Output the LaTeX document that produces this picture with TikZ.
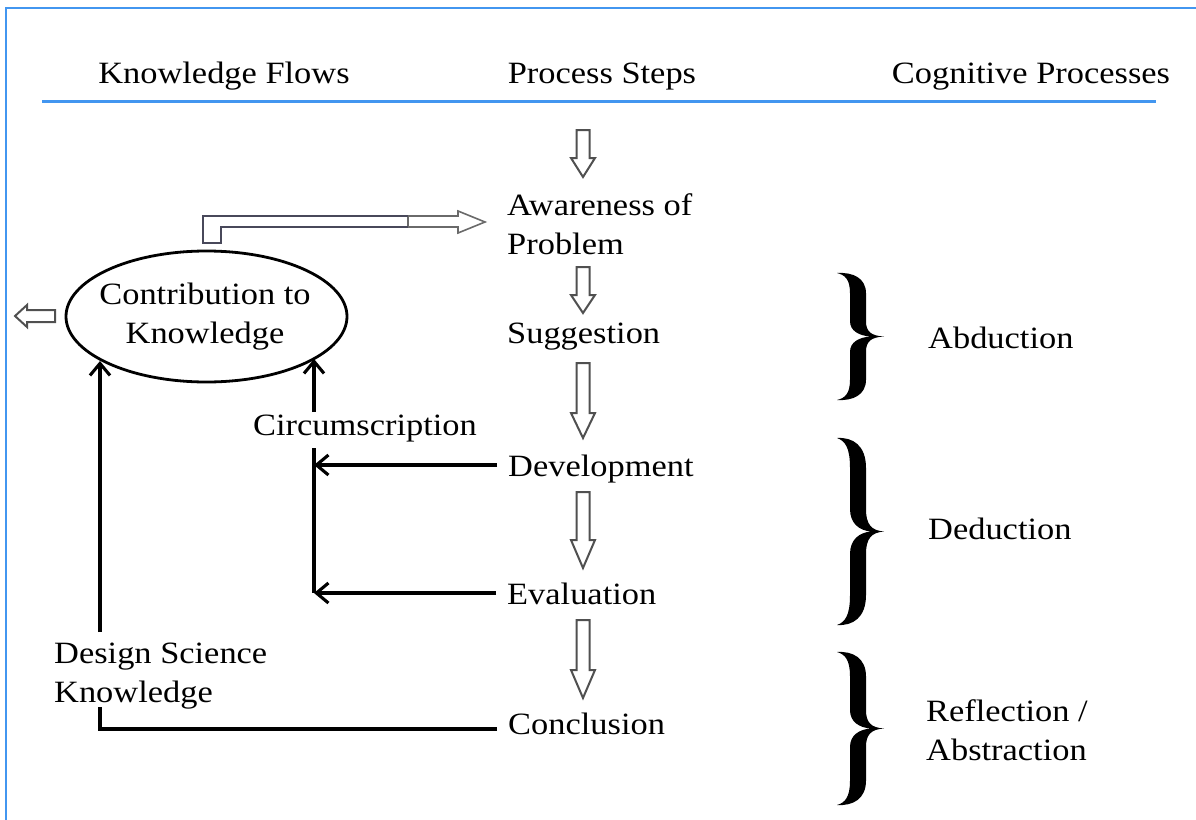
\documentclass[tikz,border=0pt]{standalone}
\usepackage{fontspec}
\setmainfont{Liberation Serif}[FakeStretch=1.11]
\usetikzlibrary{arrows.meta,shapes.geometric}
\definecolor{frameblue}{RGB}{66,150,240}
\definecolor{slate}{RGB}{72,72,90}
\definecolor{hgray}{RGB}{80,80,80}
\newcommand\hollowdownarrow[3]{\draw[hollow] (576.5,#1) -- (576.5,#2) -- (571,#2) -- (583,#3) -- (595,#2) -- (589.5,#2) -- (589.5,#1) -- cycle;}
\newcommand\curlybr[2]{%
 \pgfmathsetmacro\bt{#1}\pgfmathsetmacro\bh{#2-#1}%
 \fill[black] (837,\bt) .. controls (853,{\bt-1}) and (866,{\bt+0.04*\bh}) .. (866,{\bt+0.16*\bh})
  -- (866,{\bt+0.38*\bh}) .. controls (866,{\bt+0.46*\bh}) and (871,{\bt+0.495*\bh}) .. (884,{\bt+0.5*\bh})
  .. controls (871,{\bt+0.505*\bh}) and (866,{\bt+0.54*\bh}) .. (866,{\bt+0.62*\bh})
  -- (866,{\bt+0.84*\bh}) .. controls (866,{\bt+0.96*\bh}) and (853,{\bt+\bh+1}) .. (837,{\bt+\bh})
  .. controls (845,{\bt+0.985*\bh}) and (850,{\bt+0.95*\bh}) .. (850,{\bt+0.84*\bh})
  -- (850,{\bt+0.62*\bh}) .. controls (850,{\bt+0.545*\bh}) and (859,{\bt+0.505*\bh}) .. (871,{\bt+0.5*\bh})
  .. controls (859,{\bt+0.495*\bh}) and (850,{\bt+0.455*\bh}) .. (850,{\bt+0.38*\bh})
  -- (850,{\bt+0.16*\bh}) .. controls (850,{\bt+0.05*\bh}) and (845,{\bt+0.015*\bh}) .. (837,\bt) -- cycle;}
\begin{document}
\begin{tikzpicture}[x=1pt,y=-1pt,
  txt/.style={font=\fontsize{31}{39}\selectfont, inner sep=0pt},
  stepnode/.style={txt, inner xsep=11pt, text height=22pt, text depth=0pt, anchor=base west},
  conn/.style={line width=3.1pt},
  barb/.style={conn, -{Straight Barb[length=12pt,width=20pt]}},
  hollow/.style={draw=hgray, line width=2pt, fill=white, line join=miter}]
\useasboundingbox (0,0) rectangle (1196,819);
% frame and header rule
\draw[frameblue, line width=2.2pt] (6,822) -- (6,8) -- (1199,8);
\draw[frameblue, line width=3pt] (42,101) -- (1156,101);
% headers
\node[txt, anchor=base] (hkf) at (224,83) {Knowledge Flows};
\node[txt, anchor=base] (hps) at (602,83) {Process Steps};
\node[txt, anchor=base] (hcp) at (1031,83) {Cognitive Processes};
% process steps
\node[stepnode] (aw) at (496,215) {\begin{tabular}[t]{@{}l@{}}Awareness of\\Problem\end{tabular}};
\node[stepnode] (sug) at (496,343) {Suggestion};
\node[stepnode] (dev) at (497,476) {Development};
\node[stepnode] (eva) at (496,604) {Evaluation};
\node[stepnode] (con) at (497,734) {Conclusion};
% hollow down arrows
\hollowdownarrow{130}{158}{177}
\hollowdownarrow{267}{295}{313}
\hollowdownarrow{363}{413}{438}
\hollowdownarrow{492}{540}{568}
\hollowdownarrow{620}{670}{698}
% cognitive processes
\node[txt, anchor=base west] (abd) at (928,348) {Abduction};
\node[txt, anchor=base west] (ded) at (928,539) {Deduction};
\node[txt, anchor=base west] (ref) at (926,721) {\begin{tabular}[t]{@{}l@{}}Reflection /\\Abstraction\end{tabular}};
\curlybr{273}{400}
\curlybr{438}{625}
\curlybr{652}{805}
% contribution ellipse
\node[draw, ellipse, line width=2.8pt, minimum width=281pt, minimum height=131pt, inner sep=0pt] (ck) at (206.5,316.5) {};
\node[txt] (ckt) at (205,316.5) {\begin{tabular}{@{}c@{}}Contribution to\\Knowledge\end{tabular}};
% left outgoing hollow arrow
\draw[hollow] (55,310) -- (27,310) -- (27,305) -- (15,316) -- (27,327) -- (27,322) -- (55,322) -- cycle;
% bent hollow arrow to awareness
\draw[draw=hgray!85, line width=1.6pt, fill=white, line join=miter] (408,216) -- (458,216) -- (458,211) -- (485,222) -- (458,233) -- (458,227) -- (408,227) -- cycle;
\draw[slate, line width=2.8pt, line join=miter] (408,216) -- (203,216) -- (203,243) -- (221,243) -- (221,227) -- (408,227);
% labels
\node[txt, anchor=base] (circ) at (365,435) {Circumscription};
\node[txt, anchor=base west] (dsk) at (54,663) {\begin{tabular}[t]{@{}l@{}}Design Science\\Knowledge\end{tabular}};
% connector coordinates
\coordinate (kL) at (100,361);
\coordinate (kR) at (314,359);
\coordinate (ct) at (314,412);
\coordinate (cb) at (314,448);
\coordinate (dt) at (100,632);
\coordinate (db) at (100,707);
% connectors
\draw[conn] (cb) -- (eva.west -| kR);
\draw[barb] (dev.west) -- (dev.west -| kR);
\draw[barb] (eva.west) -- (eva.west -| kR);
\draw[barb] (ct) -- (kR);
\draw[conn] ([yshift=-6pt]con.west) -| (db);
\draw[barb] (dt) -- (kL);
\end{tikzpicture}
\end{document}
